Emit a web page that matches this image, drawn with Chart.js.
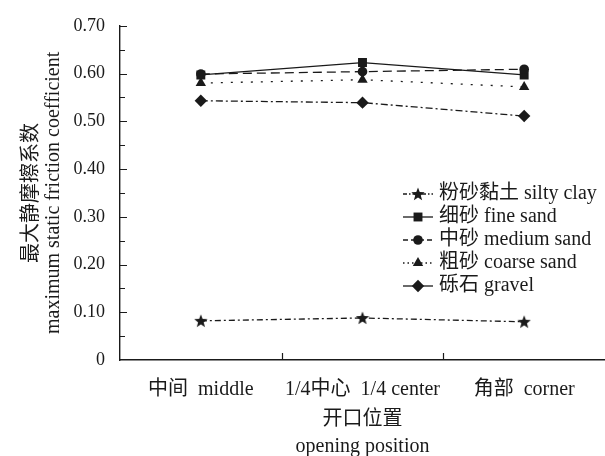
<!DOCTYPE html>
<html>
<head>
<meta charset="utf-8">
<script src="https://cdn.jsdelivr.net/npm/chart.js@4/dist/chart.umd.min.js"></script>
<style>
  html, body { margin: 0; padding: 0; overflow: hidden; background: #fff; }
</style>
</head>
<body>
<canvas id="frictionChart" width="612" height="456"></canvas>
<script>
// 开口位置 (categories)
const positions = ["中间  middle", "1/4中心  1/4 center", "角部  corner"];

// 最大静摩擦系数
const siltyClay = [0.082, 0.088, 0.080];
const fineSand = [0.597, 0.623, 0.597];
const mediumSand = [0.599, 0.604, 0.609];
const coarseSand = [0.580, 0.587, 0.572];
const gravel = [0.543, 0.539, 0.511];

const seriesNames = ["粉砂黏土 silty clay", "细砂 fine sand", "中砂 medium sand", "粗砂 coarse sand", "砾石 gravel"];

const ink = "#1a1a1a";
const fontFamily = '"Liberation Serif", "Noto Sans CJK SC", serif';

// filled five-point star (Chart.js "star" is only stroked)
function makeStar(size) {
  const c = document.createElement("canvas");
  c.width = size; c.height = size;
  const g = c.getContext("2d");
  const cx = size / 2, cy = size / 2 + 0.5;
  const outer = size / 2, inner = outer * 0.42;
  g.beginPath();
  for (let i = 0; i < 10; i++) {
    const r = i % 2 === 0 ? outer : inner;
    const a = -Math.PI / 2 + i * Math.PI / 5;
    g.lineTo(cx + r * Math.cos(a), cy + r * Math.sin(a));
  }
  g.closePath();
  g.fillStyle = ink;
  g.fill();
  return c;
}
const star = makeStar(14);

function series(label, data, pointStyle, radius, dash, extra) {
  return Object.assign({
    label: label,
    data: data,
    borderColor: ink,
    backgroundColor: ink,
    borderWidth: 1.3,
    borderDash: dash,
    pointStyle: pointStyle,
    pointRadius: radius,
    pointHoverRadius: radius,
    pointBorderWidth: 0,
    tension: 0,
  }, extra || {});
}

// dash used for the little line in the legend
const legendDash = [[4, 2, 1.5, 2], [], [5, 3], [1.5, 3], []];

// inward tick marks on both axes
const innerTicks = {
  id: "innerTicks",
  afterDatasetsDraw(chart) {
    const { ctx, chartArea, scales } = chart;
    const y = scales.y, x = scales.x;
    ctx.save();
    ctx.strokeStyle = ink;
    ctx.lineWidth = 1.2;
    ctx.beginPath();
    for (let k = 1; k <= 14; k++) {
      const py = Math.round(y.getPixelForValue(k * 0.05)) + 0.5;
      const len = k % 2 === 0 ? 7 : 5;
      ctx.moveTo(chartArea.left, py);
      ctx.lineTo(chartArea.left + len, py);
    }
    for (let i = 0; i < positions.length - 1; i++) {
      const px = Math.round((x.getPixelForValue(i) + x.getPixelForValue(i + 1)) / 2) + 0.5;
      ctx.moveTo(px, chartArea.bottom);
      ctx.lineTo(px, chartArea.bottom - 7);
    }
    ctx.stroke();
    ctx.restore();
  }
};

// legend inside the plot, line + marker + text
const insideLegend = {
  id: "insideLegend",
  afterDraw(chart) {
    const { ctx } = chart;
    const x0 = 403, x1 = 433, top = 194, step = 23;
    ctx.save();
    chart.data.datasets.forEach((ds, i) => {
      const yy = top + i * step;
      ctx.strokeStyle = ink;
      ctx.fillStyle = ink;
      ctx.lineWidth = 1.3;
      ctx.setLineDash(legendDash[i]);
      ctx.beginPath();
      ctx.moveTo(x0, yy);
      ctx.lineTo(x1, yy);
      ctx.stroke();
      ctx.setLineDash([]);
      Chart.helpers.drawPoint(ctx, {
        pointStyle: ds.pointStyle,
        radius: ds.pointRadius,
        rotation: 0,
        borderWidth: 0,
      }, (x0 + x1) / 2, yy);
      ctx.font = "20px " + fontFamily;
      ctx.textBaseline = "middle";
      ctx.textAlign = "left";
      ctx.fillText(ds.label, 439, yy);
    });
    ctx.restore();
  }
};

const ctx = document.getElementById("frictionChart").getContext("2d");
const chart = new Chart(ctx, {
  type: "line",
  data: {
    labels: positions,
    datasets: [
      series(seriesNames[0], siltyClay, star, 7, [6, 3, 2, 3]),
      series(seriesNames[1], fineSand, "rect", 6.3, []),
      series(seriesNames[2], mediumSand, "circle", 4.8, [9, 5], { order: -1 }),
      series(seriesNames[3], coarseSand, "triangle", 6, [2, 8]),
      series(seriesNames[4], gravel, "rectRot", 6.2, [7, 3, 2, 3]),
    ],
  },
  options: {
    responsive: false,
    animation: false,
    devicePixelRatio: 1,
    layout: { padding: { top: 21, left: 0, right: 0, bottom: 0 } },
    plugins: {
      legend: { display: false },
      tooltip: { enabled: false },
    },
    scales: {
      x: {
        type: "category",
        offset: true,
        grid: { display: true, drawOnChartArea: false, drawTicks: false, color: "rgba(0,0,0,0)" },
        border: { display: true, color: ink, width: 1.4 },
        ticks: {
          color: ink,
          padding: 18,
          maxRotation: 0,
          autoSkip: false,
          font: { family: fontFamily, size: 20 },
        },
        title: {
          display: true,
          text: ["开口位置", "opening position"],
          color: ink,
          font: { family: fontFamily, size: 20, lineHeight: 1.35 },
          padding: { top: 0, bottom: -4 },
        },
        afterFit(scale) { scale.height = 96; },
      },
      y: {
        min: 0,
        max: 0.7,
        grid: { display: true, drawOnChartArea: false, drawTicks: false, color: "rgba(0,0,0,0)" },
        border: { display: true, color: ink, width: 1.4 },
        ticks: {
          stepSize: 0.1,
          color: ink,
          padding: 15,
          font: { family: fontFamily, size: 18 },
          callback: (v) => (v === 0 ? "0" : Number(v).toFixed(2)),
        },
        title: {
          display: true,
          text: ["最大静摩擦系数", "maximum static friction coefficient"],
          color: ink,
          font: { family: fontFamily, size: 20, lineHeight: 1.1 },
          padding: { top: 21, bottom: 0 },
        },
        afterFit(scale) { scale.width = 120; },
      },
    },
  },
  plugins: [innerTicks, insideLegend],
});
</script>
</body>
</html>
